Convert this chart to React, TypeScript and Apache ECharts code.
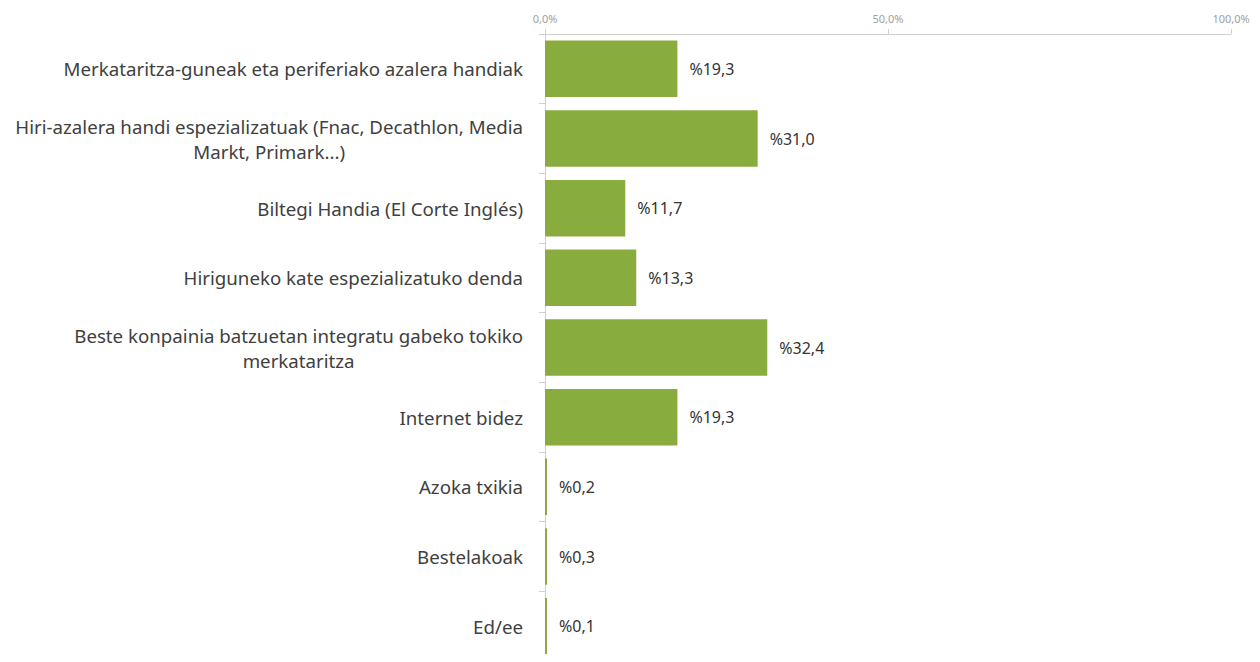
import React, { useEffect, useRef } from "react";
import * as echarts from "echarts";

const categories = [
  "Merkataritza-guneak eta periferiako azalera handiak",
  "Hiri-azalera handi espezializatuak (Fnac, Decathlon, Media\nMarkt, Primark...)",
  "Biltegi Handia (El Corte Inglés)",
  "Hiriguneko kate espezializatuko denda",
  "Beste konpainia batzuetan integratu gabeko tokiko\nmerkataritza",
  "Internet bidez",
  "Azoka txikia",
  "Bestelakoak",
  "Ed/ee",
];
const values = [19.3, 31.0, 11.7, 13.3, 32.4, 19.3, 0.2, 0.3, 0.1];
const axisTicks = [0, 50, 100];

const fmt = (v: number) => v.toFixed(1).replace(".", ",");

export default function App() {
  const ref = useRef<HTMLDivElement>(null);
  useEffect(() => {
    if (!ref.current) return;
    const chart = echarts.init(ref.current, undefined, { renderer: "svg" });
    chart.setOption({
      animation: false,
      grid: { left: 545, right: 29, top: 34, bottom: 1, containLabel: false },
      xAxis: {
        type: "value",
        position: "top",
        min: axisTicks[0],
        max: axisTicks[axisTicks.length - 1],
        interval: axisTicks[1] - axisTicks[0],
        axisLine: { show: true, lineStyle: { color: "#d0d0d0" } },
        axisTick: { show: true, length: 5, lineStyle: { color: "#d0d0d0" } },
        splitLine: { show: false },
        axisLabel: {
          color: "#a0a0a0",
          fontSize: 11,
          fontFamily: "Noto Sans",
          margin: 10,
          formatter: (v: number) => fmt(v) + "%",
        },
      },
      yAxis: {
        type: "category",
        inverse: true,
        data: categories,
        axisLine: { show: true, lineStyle: { color: "#d0d0d0" } },
        axisTick: { show: true, length: 6, lineStyle: { color: "#d0d0d0" } },
        axisLabel: {
          margin: 22,
          color: "#404040",
          fontSize: 18.7,
          fontFamily: "Noto Sans",
          lineHeight: 25,
          formatter: (v: string) =>
            v
              .split("\n")
              .map((l) => `{c|${l}}`)
              .join("\n"),
          rich: {
            c: {
              align: "center",
              color: "#404040",
              fontSize: 18.7,
              fontFamily: "Noto Sans",
              lineHeight: 25,
            },
          },
        },
      },
      series: [
        {
          type: "bar",
          data: values,
          barCategoryGap: "19%",
          barMinHeight: 2,
          itemStyle: { color: "#89ac3f" },
          label: {
            show: true,
            position: "right",
            distance: 12,
            color: "#333333",
            fontSize: 16,
            fontFamily: "Noto Sans",
            formatter: (p: any) => "%" + fmt(p.value),
          },
        },
      ],
    });
    return () => chart.dispose();
  }, []);
  return <div ref={ref} style={{ width: 1260, height: 662, margin: -8 }} />;
}
